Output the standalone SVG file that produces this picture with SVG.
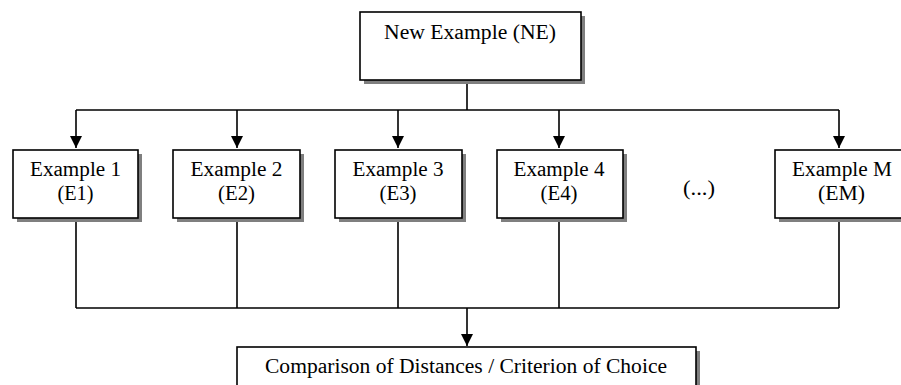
<svg xmlns="http://www.w3.org/2000/svg" width="901" height="385" viewBox="0 0 901 385">
<style>
.box{fill:#fff;stroke:#000;stroke-width:1.6}
.shadow{fill:#7f7f7f}
.t{font-family:"Liberation Serif","Times New Roman",serif;font-size:20px;fill:#000;text-anchor:middle}
.ln{fill:none;stroke:#000;stroke-width:1.6}
</style>
<defs>
<marker id="arr" viewBox="0 0 12 12" refX="12" refY="6" markerWidth="12" markerHeight="12" markerUnits="userSpaceOnUse" orient="auto">
<path d="M0,0 L12,6 L0,12 Z" fill="#000"/>
</marker>
</defs>
<rect width="901" height="385" fill="#fff"/>
<g id="connectors">
<path class="ln" d="M467,80 V110 M76,110 H839"/>
<path class="ln" d="M76,110 V148" marker-end="url(#arr)"/>
<path class="ln" d="M237,110 V148" marker-end="url(#arr)"/>
<path class="ln" d="M398,110 V148" marker-end="url(#arr)"/>
<path class="ln" d="M559,110 V148" marker-end="url(#arr)"/>
<path class="ln" d="M839,110 V148" marker-end="url(#arr)"/>
<path class="ln" d="M76,218 V308 M237,218 V308 M398,218 V308 M559,218 V308 M839,218 V308 M76,308 H839"/>
<path class="ln" d="M467,308 V346" marker-end="url(#arr)"/>
</g>
<g id="ne">
<rect class="shadow" x="364" y="16" width="221" height="68"/>
<rect class="box" x="360" y="12" width="221" height="68"/>
<text class="t" x="470" y="39" textLength="172" lengthAdjust="spacingAndGlyphs">New Example (NE)</text>
</g>
<g id="e1">
<rect class="shadow" x="17" y="154" width="125" height="68"/>
<rect class="box" x="13" y="150" width="125" height="68"/>
<text class="t" x="75.5" y="176" textLength="91" lengthAdjust="spacingAndGlyphs">Example 1</text>
<text class="t" x="75.5" y="200" textLength="36" lengthAdjust="spacingAndGlyphs">(E1)</text>
</g>
<g id="e2">
<rect class="shadow" x="177" y="154" width="127" height="68"/>
<rect class="box" x="173" y="150" width="127" height="68"/>
<text class="t" x="236.5" y="176" textLength="92" lengthAdjust="spacingAndGlyphs">Example 2</text>
<text class="t" x="236.5" y="200" textLength="37" lengthAdjust="spacingAndGlyphs">(E2)</text>
</g>
<g id="e3">
<rect class="shadow" x="339" y="154" width="127" height="68"/>
<rect class="box" x="335" y="150" width="127" height="68"/>
<text class="t" x="398" y="176" textLength="91" lengthAdjust="spacingAndGlyphs">Example 3</text>
<text class="t" x="398" y="200" textLength="37" lengthAdjust="spacingAndGlyphs">(E3)</text>
</g>
<g id="e4">
<rect class="shadow" x="501" y="154" width="126" height="68"/>
<rect class="box" x="497" y="150" width="126" height="68"/>
<text class="t" x="559" y="176" textLength="91" lengthAdjust="spacingAndGlyphs">Example 4</text>
<text class="t" x="559" y="200" textLength="37" lengthAdjust="spacingAndGlyphs">(E4)</text>
</g>
<g id="dots">
<text class="t" x="699" y="195" textLength="32" lengthAdjust="spacingAndGlyphs">(...)</text>
</g>
<g id="em">
<rect class="shadow" x="779" y="154" width="128" height="68"/>
<rect class="box" x="775" y="150" width="128" height="68"/>
<text class="t" x="842" y="176" textLength="100" lengthAdjust="spacingAndGlyphs">Example M</text>
<text class="t" x="841.5" y="200" textLength="47" lengthAdjust="spacingAndGlyphs">(EM)</text>
</g>
<g id="cmp">
<rect class="shadow" x="241" y="351" width="459" height="50"/>
<rect class="box" x="237" y="347" width="459" height="50"/>
<text class="t" x="466" y="373" textLength="402" lengthAdjust="spacingAndGlyphs">Comparison of Distances / Criterion of Choice</text>
</g>
</svg>
